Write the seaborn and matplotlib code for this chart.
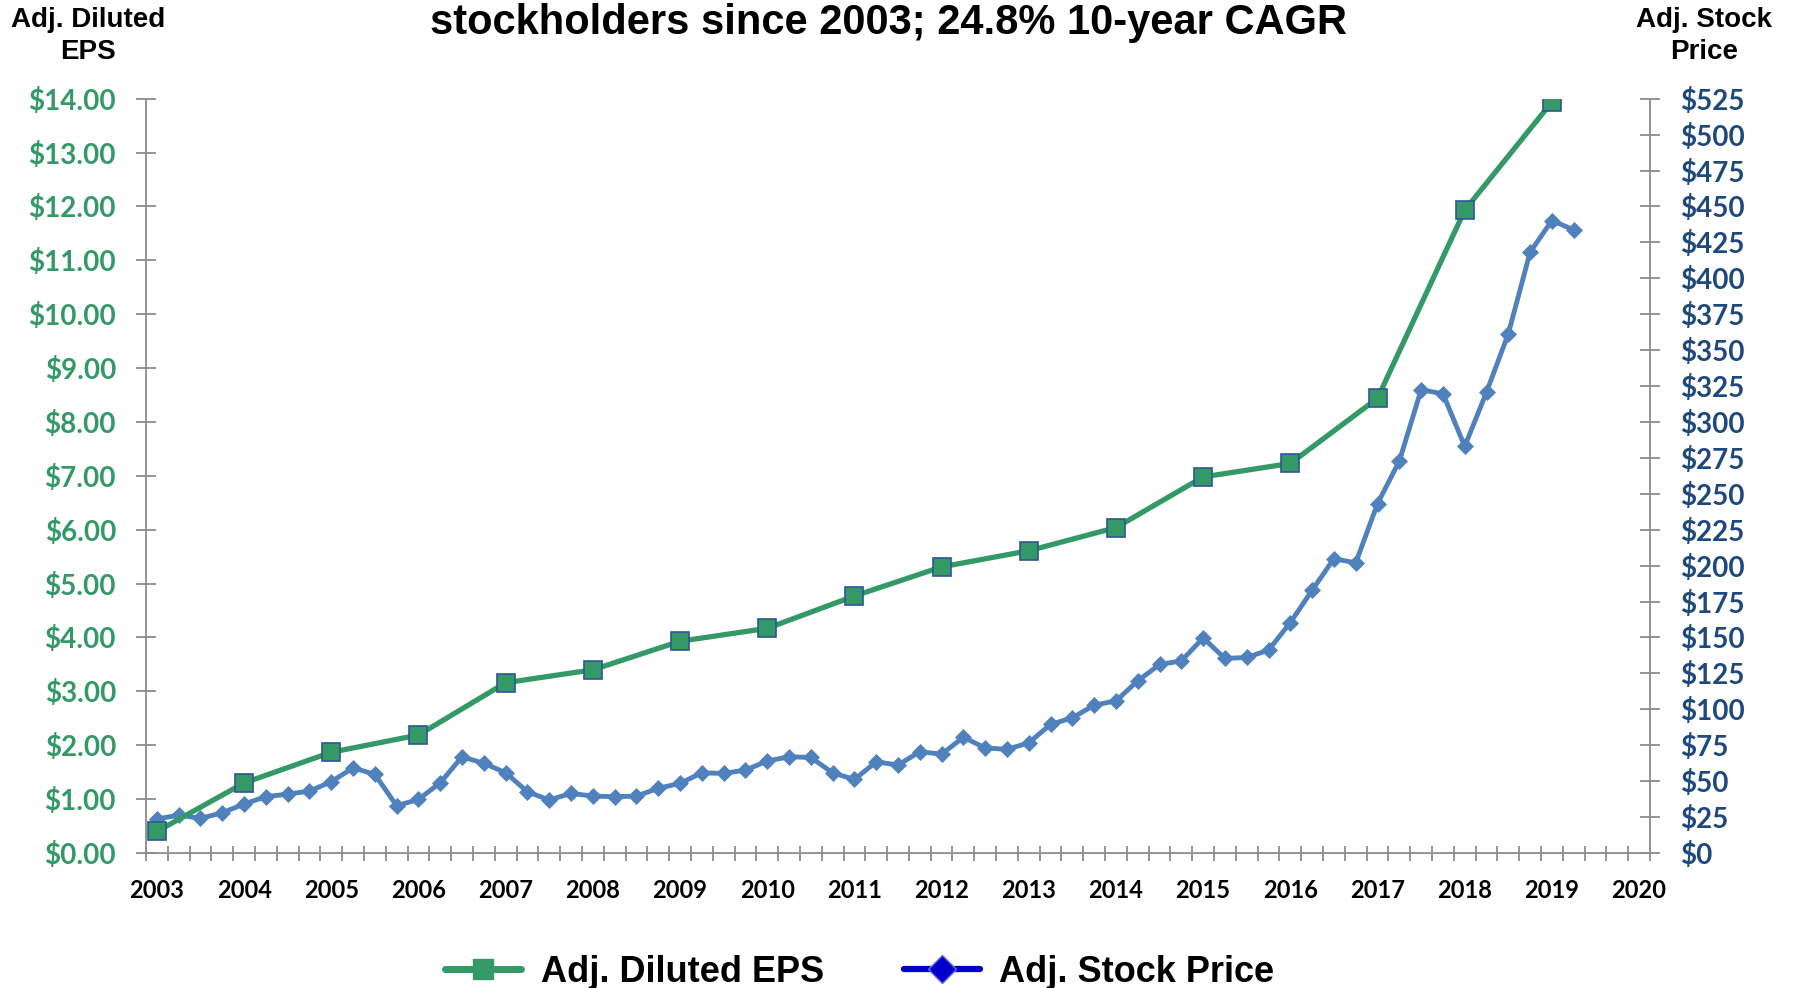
import matplotlib
matplotlib.use("Agg")
import matplotlib.pyplot as plt
from matplotlib.lines import Line2D
from matplotlib.ticker import FixedLocator
import numpy as np
import pandas as pd
import seaborn as sns

# annual adjusted diluted EPS (left axis)
eps_years = list(range(2003, 2020))
eps = [0.40, 1.30, 1.87, 2.19, 3.16, 3.40, 3.93, 4.17, 4.77, 5.31,
       5.61, 6.04, 6.98, 7.23, 8.44, 11.93, 13.94]

# quarterly adjusted stock price (right axis), 2003Q1 .. 2019Q2
price = [23.6, 26.4, 24.1, 28.0, 34.1, 39.2, 41.0, 43.1, 49.6, 59.3,
         54.7, 32.9, 37.3, 48.9, 67.0, 62.4, 55.9, 42.6, 36.9, 41.5,
         39.6, 39.2, 39.6, 45.0, 48.5, 55.8, 55.4, 57.7, 64.0, 67.0,
         66.5, 55.8, 51.2, 63.5, 61.2, 70.5, 68.8, 80.5, 73.2, 72.1,
         76.7, 89.5, 94.1, 102.9, 105.9, 119.8, 131.2, 133.7, 149.7, 135.4,
         136.1, 141.2, 160.4, 182.9, 204.9, 201.9, 243.2, 272.8, 322.4, 319.7,
         283.0, 320.8, 361.4, 418.2, 440.2, 433.7]
quarters = pd.period_range("2003Q1", periods=len(price), freq="Q")

year_labels = list(range(2003, 2021))
eps_ticks = list(range(0, 15))
price_ticks = list(range(0, 526, 25))

title = "stockholders since 2003; 24.8% 10-year CAGR"
left_title = "Adj. Diluted\nEPS"
right_title = "Adj. Stock\nPrice"
legend_labels = ["Adj. Diluted EPS", "Adj. Stock Price"]

GREEN = "#339966"
BLUE = "#4F81BD"
NAVY = "#1F497D"
GRAY = "#8C8C8C"

sns.set_style("white")
plt.rcParams["font.family"] = ["Liberation Sans", "DejaVu Sans"]
plt.rcParams["text.color"] = "black"

W, H = 1793, 988
fig = plt.figure(figsize=(W / 100, H / 100), dpi=100)
ax = fig.add_axes([146 / W, (H - 853) / H, 1504 / W, (853 - 98.7) / H])
ax2 = ax.twinx()

price_df = pd.DataFrame({"x": quarters.year + (quarters.quarter - 1) / 4, "price": price})
eps_df = pd.DataFrame({"x": eps_years, "eps": eps})

sns.lineplot(data=price_df, x="x", y="price", ax=ax2, color=BLUE, linewidth=3.5,
             marker="D", markersize=8.5, markerfacecolor=BLUE,
             markeredgecolor=BLUE, markeredgewidth=0.5)
sns.lineplot(data=eps_df, x="x", y="eps", ax=ax, color=GREEN, linewidth=3.8,
             marker="s", markersize=12.5, markerfacecolor=GREEN,
             markeredgecolor="#2F5597", markeredgewidth=1.2)
ax.set_zorder(ax2.get_zorder() + 1)
ax.patch.set_visible(False)

ax.set_xlim(2003 - 0.125, 2020 + 0.125)
ax.set_ylim(0, 14)
ax2.set_ylim(0, 525)
ax.set_xlabel("")
ax.set_ylabel("")
ax2.set_xlabel("")
ax2.set_ylabel("")

# year labels on category centres, tick marks on quarter boundaries
ax.xaxis.set_major_locator(FixedLocator(year_labels))
ax.set_xticklabels([str(y) for y in year_labels], fontfamily="Lato",
                   fontweight="bold", fontsize=17, color="black")
ax.xaxis.set_minor_locator(FixedLocator(np.arange(2003 - 0.125, 2020.2, 0.25)))
ax.tick_params(axis="x", which="major", bottom=True, length=0, pad=18.5)
ax.tick_params(axis="x", which="minor", bottom=True, direction="inout",
               length=10.8, width=1.3, color=GRAY)

ax.yaxis.set_major_locator(FixedLocator(eps_ticks))
ax.set_yticklabels([f"${v:.2f}" for v in eps_ticks], fontfamily="Lato",
                   fontweight="bold", fontsize=20, color=GREEN)
ax.tick_params(axis="y", left=True, right=False, direction="inout",
               length=14.4, width=1.3, color=GRAY, pad=14.4)

ax2.yaxis.set_major_locator(FixedLocator(price_ticks))
ax2.set_yticklabels([f"${v}" for v in price_ticks], fontfamily="Lato",
                    fontweight="bold", fontsize=20, color=NAVY)
ax2.tick_params(axis="y", right=True, left=False, direction="inout",
                length=14.4, width=1.3, color=GRAY, pad=14.4)

for s in ["top", "right"]:
    ax.spines[s].set_visible(False)
for s in ["top", "left", "bottom"]:
    ax2.spines[s].set_visible(False)
for sp in [ax.spines["left"], ax.spines["bottom"], ax2.spines["right"]]:
    sp.set_color(GRAY)
    sp.set_linewidth(1.3)

fig.text(889 / W, 1 - 3 / H, title, ha="center", va="top",
         fontsize=30, fontweight="bold", color="black")
fig.text(88 / W, 1 - 36 / H, left_title, ha="center", va="center", color="black",
         multialignment="center", fontsize=20, fontweight="bold", linespacing=1.3)
fig.text(1704 / W, 1 - 36 / H, right_title, ha="center", va="center", color="black",
         multialignment="center", fontsize=20, fontweight="bold", linespacing=1.3)

handles = [
    Line2D([], [], color=GREEN, linewidth=5, marker="s", markersize=14,
           markerfacecolor=GREEN, markeredgecolor=GREEN),
    Line2D([], [], color="#0000CC", linewidth=4.5, marker="D", markersize=14,
           markerfacecolor="#0000CC", markeredgecolor="#6A6AE0", markeredgewidth=1),
]
leg = fig.legend(handles, legend_labels, loc="center", bbox_to_anchor=(860 / W, 16 / H),
                 ncol=2, frameon=False, handlelength=2.1, handletextpad=0.55,
                 columnspacing=2.2, prop={"family": "Liberation Sans", "weight": "bold", "size": 26})
for t in leg.get_texts():
    t.set_color("black")

fig.savefig("out.png", dpi=100)
